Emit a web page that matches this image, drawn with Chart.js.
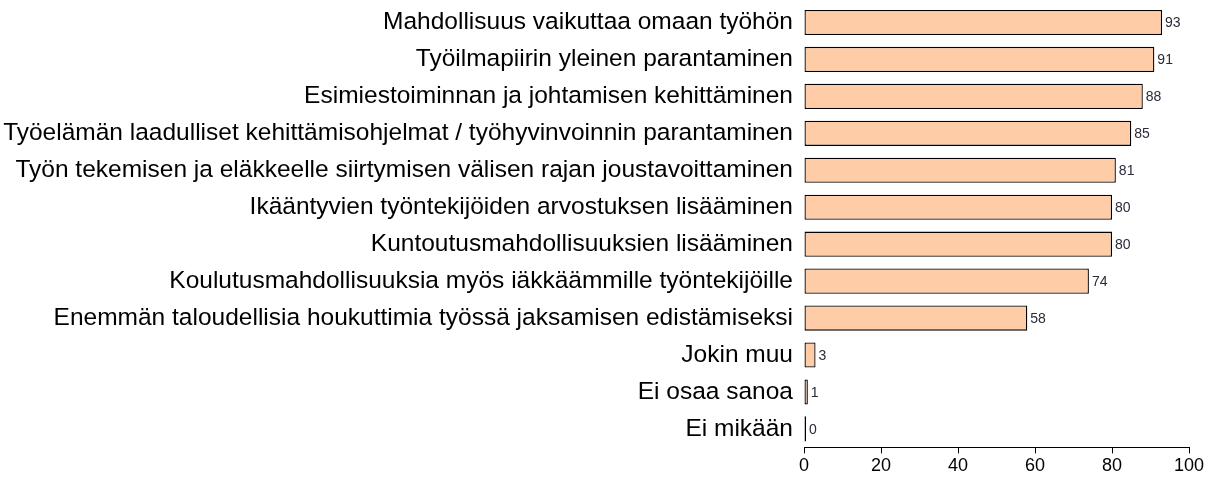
<!DOCTYPE html>
<html>
<head>
<meta charset="utf-8">
<script src="https://cdn.jsdelivr.net/npm/chart.js@4/dist/chart.umd.min.js"></script>
<style>
  html, body { margin: 0; padding: 0; background: #fff; }
  #wrap { width: 1209px; height: 484px; }
</style>
</head>
<body>
<div id="wrap"><canvas id="barChart"></canvas></div>
<script>
// Chart data
const categories = [
    'Mahdollisuus vaikuttaa omaan työhön',
    'Työilmapiirin yleinen parantaminen',
    'Esimiestoiminnan ja johtamisen kehittäminen',
    'Työelämän laadulliset kehittämisohjelmat / työhyvinvoinnin parantaminen',
    'Työn tekemisen ja eläkkeelle siirtymisen välisen rajan joustavoittaminen',
    'Ikääntyvien työntekijöiden arvostuksen lisääminen',
    'Kuntoutusmahdollisuuksien lisääminen',
    'Koulutusmahdollisuuksia myös iäkkäämmille työntekijöille',
    'Enemmän taloudellisia houkuttimia työssä jaksamisen edistämiseksi',
    'Jokin muu',
    'Ei osaa sanoa',
    'Ei mikään'
];
const values = [93, 91, 88, 85, 81, 80, 80, 74, 58, 3, 1, 0];
const xTicks = [0, 20, 40, 60, 80, 100];

// Draw value labels at the end of each bar
const valueLabels = {
    id: 'valueLabels',
    afterDatasetsDraw(chart) {
        const ctx = chart.ctx;
        const meta = chart.getDatasetMeta(0);
        ctx.save();
        ctx.font = '14px "Liberation Sans", Arial, sans-serif';
        ctx.fillStyle = '#2a2a3a';
        ctx.textAlign = 'left';
        ctx.textBaseline = 'middle';
        meta.data.forEach((bar, i) => {
            ctx.fillText(String(values[i]), bar.x + 3, bar.y + 1);
        });
        ctx.restore();
    }
};

const ctx = document.getElementById('barChart').getContext('2d');
const barChart = new Chart(ctx, {
    type: 'bar',
    data: {
        labels: categories,
        datasets: [{
            data: values,
            backgroundColor: '#ffcca8',
            borderColor: '#000',
            borderWidth: 1.3,
            borderSkipped: false,
            minBarLength: 2,
            barPercentage: 0.68,
            categoryPercentage: 1
        }]
    },
    options: {
        indexAxis: 'y',
        responsive: true,
        maintainAspectRatio: false,
        animation: false,
        layout: { padding: { top: 4, right: 20, bottom: 5, left: 0 } },
        plugins: {
            legend: { display: false },
            tooltip: { enabled: false }
        },
        scales: {
            x: {
                min: 0,
                max: 100,
                afterBuildTicks: (axis) => {
                    axis.ticks = xTicks.map(v => ({ value: v }));
                },
                grid: {
                    drawOnChartArea: false,
                    drawTicks: true,
                    tickLength: 6,
                    color: '#000'
                },
                border: { display: true, color: '#000', width: 1 },
                ticks: {
                    color: '#000',
                    padding: 2,
                    font: { family: '"Liberation Sans", Arial, sans-serif', size: 18 }
                }
            },
            y: {
                // fixed label column width, no extra top/bottom padding
                afterFit: (scale) => {
                    scale.width = 804;
                    scale.paddingTop = 0;
                    scale.paddingBottom = 0;
                },
                grid: { display: false, drawTicks: false },
                border: { display: false },
                ticks: {
                    color: '#000',
                    padding: 11,
                    autoSkip: false,
                    font: { family: '"Liberation Sans", Arial, sans-serif', size: 24.5 }
                }
            }
        }
    },
    plugins: [valueLabels]
});
</script>
</body>
</html>
